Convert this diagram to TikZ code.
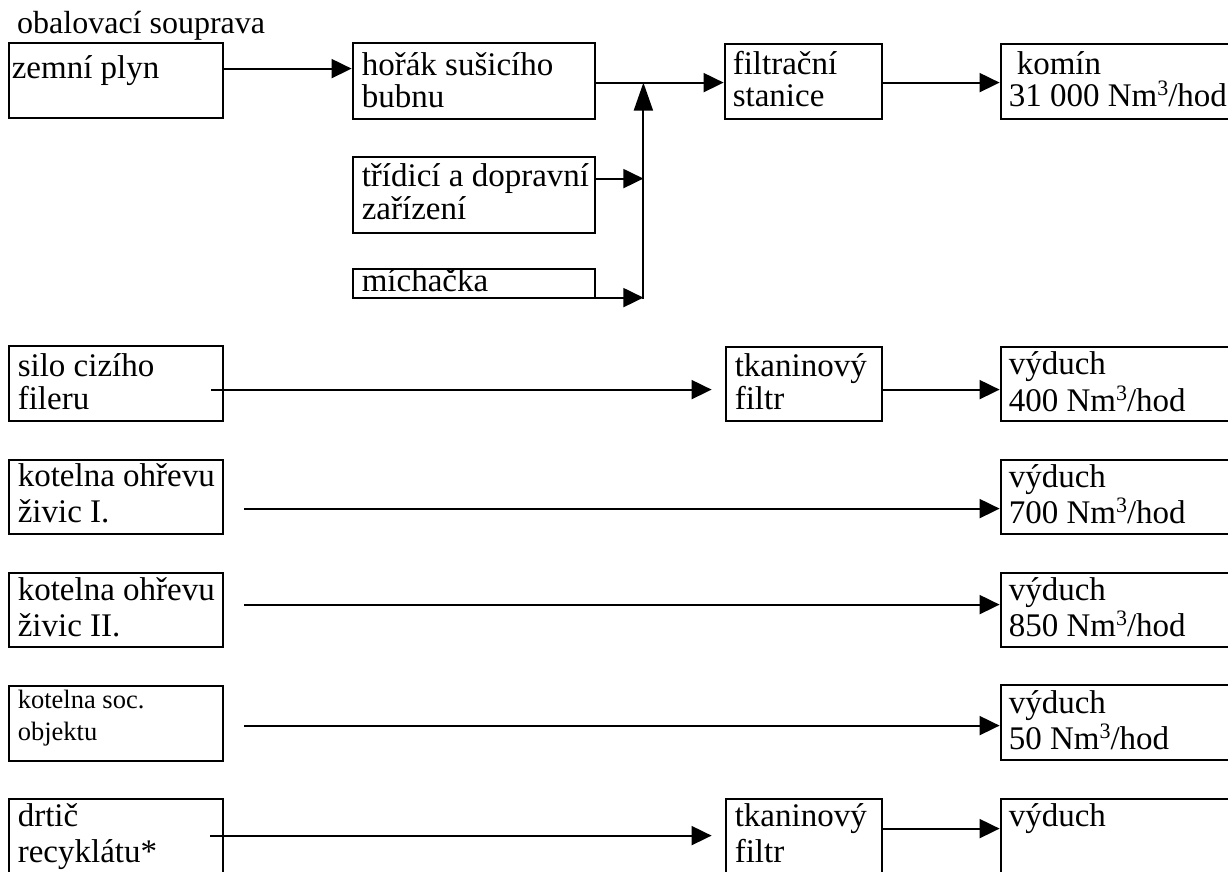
\documentclass[tikz,border=0pt]{standalone}
\usepackage{fontspec}
\setmainfont{Liberation Serif}
\usetikzlibrary{arrows.meta,calc,fit}
\newcommand\tl[1]{\parbox[t]{400pt}{#1}}
\newcommand\cubed{\raisebox{11.5pt}{\fontsize{22}{22}\selectfont 3}}
\begin{document}
\begin{tikzpicture}[x=1pt,y=-1pt,
  box/.style={draw,line width=2.8pt,inner sep=0pt},
  ln/.style={line width=1.9pt},
  arr/.style={ln,-{Triangle[length=20pt,width=19pt]}},
  uparr/.style={ln,-{Triangle[length=28pt,width=19pt]}},
  txt/.style={inner sep=0pt,anchor=base west,font=\fontsize{33}{33}\selectfont},
  small/.style={txt,font=\fontsize{26.5}{32}\selectfont},
]
\useasboundingbox (0,0) rectangle (1228,871);
% boxes
\node[box,fit={(9,43) (223,118)}] (zp) {};
\node[box,fit={(353,43) (595,119)}] (hb) {};
\node[box,fit={(353,157) (595,233)}] (td) {};
\node[box,fit={(353,269) (595,298)}] (mi) {};
\node[box,fit={(725,44) (882,119)}] (fs) {};
\node[box,fit={(1001,44) (1240,119)}] (ko) {};
\node[box,fit={(9,346) (223,421)}] (si) {};
\node[box,fit={(726,347) (882,421)}] (tf1) {};
\node[box,fit={(1001,347) (1240,421)}] (vy1) {};
\node[box,fit={(9,460) (223,534)}] (k1) {};
\node[box,fit={(1001,460) (1240,534)}] (vy2) {};
\node[box,fit={(9,573) (223,647)}] (k2) {};
\node[box,fit={(1001,573) (1240,647)}] (vy3) {};
\node[box,fit={(9,686) (223,761)}] (ks) {};
\node[box,fit={(1001,685) (1240,760)}] (vy4) {};
\node[box,fit={(9,799) (223,900)}] (dr) {};
\node[box,fit={(726,799) (882,900)}] (tf2) {};
\node[box,fit={(1001,799) (1240,900)}] (vy5) {};
% texts
\node[txt,font=\fontsize{32}{32}\selectfont] (title) at (17,33) {obalovací souprava};
\node[txt] (t-zp) at ($(zp.north west)+(4,37)$) {\tl{zemní plyn}};
\node[txt] (t-hb) at ($(hb.north west)+(10,34)$) {\tl{hořák sušicího\\[-1pt]bubnu}};
\node[txt] (t-td) at ($(td.north west)+(10,31)$) {\tl{třídicí a dopravní\\zařízení}};
\node[txt] (t-mi) at ($(mi.north west)+(10,24)$) {\tl{míchačka}};
\node[txt] (t-fs) at ($(fs.north west)+(9,32)$) {\tl{filtrační\\[-1pt]stanice}};
\node[txt] (t-ko) at ($(ko.north west)+(9,32)$) {\tl{\hspace*{8pt}komín\\[-1pt]31 000 Nm\cubed/hod}};
\node[txt] (t-si) at ($(si.north west)+(10,32)$) {\tl{silo cizího\\fileru}};
\node[txt] (t-tf1) at ($(tf1.north west)+(10,31)$) {\tl{tkaninový\\filtr}};
\node[txt] (t-vy1) at ($(vy1.north west)+(9,29)$) {\tl{výduch\\[3pt]400 Nm\cubed/hod}};
\node[txt] (t-k1) at ($(k1.north west)+(10,28)$) {\tl{kotelna ohřevu\\[3pt]živic I.}};
\node[txt] (t-vy2) at ($(vy2.north west)+(9,29)$) {\tl{výduch\\[2pt]700 Nm\cubed/hod}};
\node[txt] (t-k2) at ($(k2.north west)+(10,29)$) {\tl{kotelna ohřevu\\[3pt]živic II.}};
\node[txt] (t-vy3) at ($(vy3.north west)+(9,29)$) {\tl{výduch\\[2pt]850 Nm\cubed/hod}};
\node[small] (t-ks) at ($(ks.north west)+(10,24)$) {\tl{kotelna soc.\\objektu}};
\node[txt] (t-vy4) at ($(vy4.north west)+(9,30)$) {\tl{výduch\\[2pt]50 Nm\cubed/hod}};
\node[txt] (t-dr) at ($(dr.north west)+(10,29)$) {\tl{drtič\\[3pt]recyklátu*}};
\node[txt] (t-tf2) at ($(tf2.north west)+(10,29)$) {\tl{tkaninový\\[3pt]filtr}};
\node[txt] (t-vy5) at ($(vy5.north west)+(9,29)$) {\tl{výduch}};
% connectors, top group
\draw[arr] ($(zp.north east)+(0,27)$) -- ($(hb.north west)+(0,27)$);
\draw[ln] ($(hb.north east)+(0,41)$) -- ($(hb.north east)+(47,41)$) coordinate (jt);
\draw[arr] (jt) -- ($(fs.north west)+(0,40)$);
\coordinate (a1) at ($(td.north east)+(0,23)$);
\coordinate (a2) at ($(mi.north east)+(0,30)$);
\coordinate (jb) at ($(a2 -| jt)+(0,1)$);
\draw[uparr] (jb) -- (jt);
\draw[arr] (a1) -- (a1 -| jt);
\draw[arr] (a2) -- (a2 -| jt);
\draw[arr] ($(fs.north east)+(0,40)$) -- ($(ko.north west)+(0,40)$);
% row 2
\draw[arr] ($(si.north east)+(-13,45)$) -- ($(tf1.north west)+(-13,44)$);
\draw[arr] ($(tf1.north east)+(0,44)$) -- ($(vy1.north west)+(0,44)$);
% rows 3-5
\draw[arr] ($(k1.north east)+(20,50)$) -- ($(vy2.north west)+(0,50)$);
\draw[arr] ($(k2.north east)+(20,33)$) -- ($(vy3.north west)+(0,33)$);
\draw[arr] ($(ks.north east)+(20,41)$) -- ($(vy4.north west)+(0,42)$);
% row 6
\draw[arr] ($(dr.north east)+(-14,38)$) -- ($(tf2.north west)+(-13,38)$);
\draw[arr] ($(tf2.north east)+(0,31)$) -- ($(vy5.north west)+(0,31)$);
\end{tikzpicture}
\end{document}
